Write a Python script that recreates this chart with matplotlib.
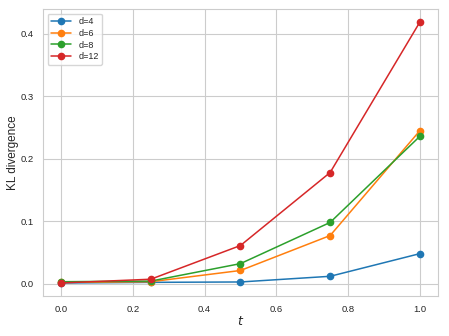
import numpy as np
import matplotlib
matplotlib.use("Agg")
from matplotlib import pyplot as plt
import seaborn as sns

t = [0.0, 0.25, 0.5, 0.75, 1.0]
labels = ["d=4", "d=6", "d=8", "d=12"]
kl_d4 = [0.001, 0.002, 0.0026, 0.0117, 0.048]
kl_d6 = [0.002, 0.003, 0.021, 0.077, 0.245]
kl_d8 = [0.003, 0.004, 0.032, 0.098, 0.236]
kl_d12 = [0.001, 0.007, 0.061, 0.178, 0.419]


def main():
    sns.set_style("whitegrid")
    plt.rcParams['font.family'] = ['Arial', 'Liberation Sans', 'DejaVu Sans']
    fig = plt.figure(figsize=(4.49, 3.36), dpi=100)
    ax = fig.add_axes([0.096, 0.119, 0.879, 0.854])
    for vals, lab in zip([kl_d4, kl_d6, kl_d8, kl_d12], labels):
        ax.plot(t, vals, marker='o', markersize=4.5, linewidth=1.1, label=lab)
    ax.set_xlabel("$t$", fontsize=9, labelpad=1)
    ax.set_ylabel("KL divergence", fontsize=8.5, labelpad=1)
    ax.tick_params(labelsize=6.8, pad=3)
    ax.set_yticks([0.0, 0.1, 0.2, 0.3, 0.4])
    ax.legend(loc='upper left', fontsize=6.5, labelspacing=0.3, handlelength=2.2)
    fig.savefig("out.png", dpi=100)


if __name__ == '__main__':
    main()
